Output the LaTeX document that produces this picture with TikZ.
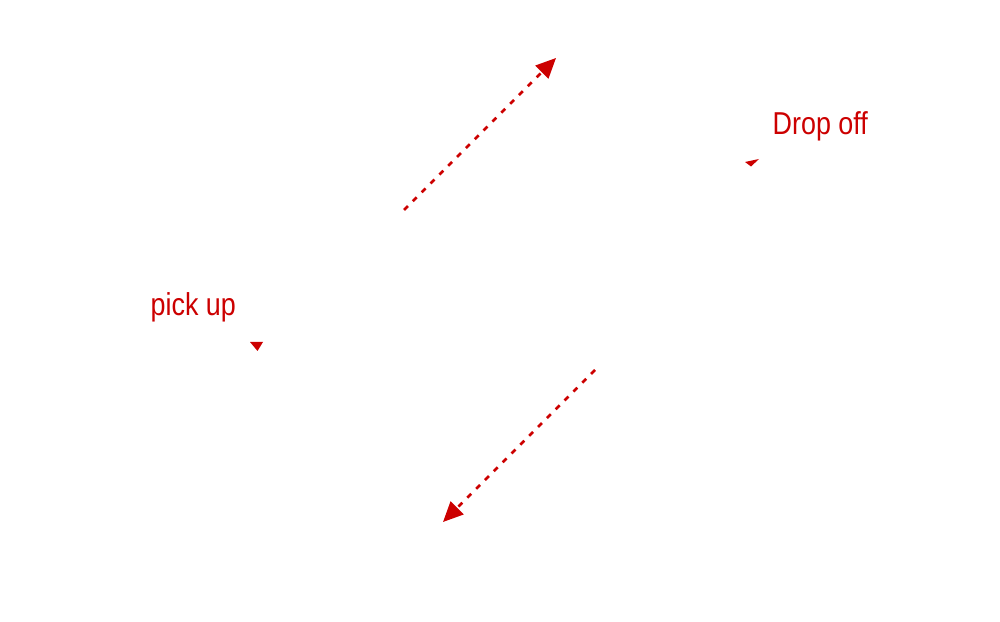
\documentclass[tikz,border=0pt]{standalone}
\usepackage{fontspec}
\newfontfamily\handfont[FakeStretch=0.85]{Liberation Sans}
\usepackage{xcolor}
\definecolor{pen}{HTML}{CC0000}
\usetikzlibrary{arrows.meta,positioning}
\tikzset{
  >={Triangle[length=2mm,width=1.8mm]},
  route/.style ={->,draw=pen,line width=0.025cm,dash pattern=on 0.055cm off 0.07cm},
  lbl/.style   ={font=\handfont\fontsize{9}{10}\selectfont,text=pen,inner sep=0pt,anchor=base west},
  tipmark/.style={fill=pen},
}
\begin{document}
\begin{tikzpicture}[x=0.01cm,y=-0.01cm]
\useasboundingbox (0,0) rectangle (1000,622);
% labels
\node[lbl] (pickup) at (150,316) {pick up};
\node[lbl] (dropoff) at (772,135) {Drop off};
% small markers below the labels
\fill[tipmark] (250,342) -- (263,342) -- (257.5,351) -- cycle;
\fill[tipmark] (745,162) -- (759,159) -- (751,166.5) -- cycle;
% routes
\coordinate (outstart) at (404,210);
\coordinate (outend) at (556,58);
\coordinate (backstart) at (595,370);
\coordinate (backend) at (443,522);
\draw[route] (outstart) -- (outend);
\draw[route] (backstart) -- (backend);
\end{tikzpicture}
\end{document}
